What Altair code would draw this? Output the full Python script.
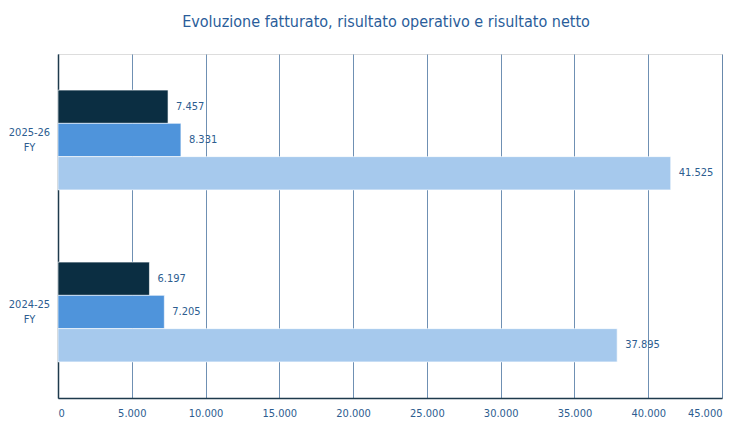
import altair as alt
import pandas as pd

categories = ["2025-26 FY", "2024-25 FY"]
series = ["Risultato netto", "Risultato operativo", "Fatturato"]
netto = [7457, 6197]
operativo = [8331, 7205]
fatturato = [41525, 37895]
colors = ["#0b2e42", "#4f94db", "#a6c9ed"]

rows = []
for i, c in enumerate(categories):
    for s, vals in zip(series, [netto, operativo, fatturato]):
        rows.append({"anno": c, "serie": s, "valore": vals[i]})
df = pd.DataFrame(rows)

FONT = "DejaVu Sans Condensed, Liberation Sans, sans-serif"
TXT = "#2d5d90"

y_enc = alt.Y("anno:N", sort=categories, title=None,
              scale=alt.Scale(paddingInner=0.42, paddingOuter=0.21),
              axis=alt.Axis(labelExpr="split(datum.label, ' ')", labelFont=FONT,
                            labelFontSize=11, labelColor=TXT, ticks=False,
                            labelAlign="center", labelPadding=29, labelOffset=-7,
                            domainColor="#1e3a4c", domainWidth=1.5,
                            labelLineHeight=15))
yoff = alt.YOffset("serie:N", sort=series, scale=alt.Scale(paddingInner=0, paddingOuter=0))
x_enc = alt.X("valore:Q", title=None,
              scale=alt.Scale(domain=[0, 45000], nice=False),
              axis=alt.Axis(values=list(range(0, 45001, 5000)),
                            labelExpr="replace(format(datum.value, ','), ',', '.')",
                            labelFont=FONT, labelFontSize=11, labelColor=TXT,
                            ticks=False, grid=True, gridColor="#4a73a0", gridWidth=0.8,
                            domainColor="#1e3a4c", domainWidth=1.5, labelPadding=9))

bars = alt.Chart(df).mark_bar(stroke="#ffffff", strokeWidth=1, strokeOpacity=0.6).encode(
    x=x_enc, y=y_enc, yOffset=yoff,
    color=alt.Color("serie:N", sort=series,
                    scale=alt.Scale(domain=series, range=colors), legend=None),
)
labels = alt.Chart(df).mark_text(align="left", baseline="middle", dx=8,
                                 font=FONT, fontSize=11, color=TXT).encode(
    x="valore:Q", y=alt.Y("anno:N", sort=categories), yOffset=yoff,
    text=alt.Text("lbl:N"),
).transform_calculate(lbl="replace(format(datum.valore, ','), ',', '.')")

chart = alt.layer(bars, labels).properties(
    width=664, height=344,
    title=alt.TitleParams("Evoluzione fatturato, risultato operativo e risultato netto",
                          font=FONT, fontSize=16, fontWeight="normal", color="#2a5d9a",
                          anchor="middle", dx=-4, offset=24),
    padding={"left": 50, "top": 46, "right": 15, "bottom": 20},
    autosize=alt.AutoSizeParams(type="none"),
).configure_view(stroke=None).configure(background="white")

chart.save("out.html", embed_options={"renderer": "svg", "actions": False})
